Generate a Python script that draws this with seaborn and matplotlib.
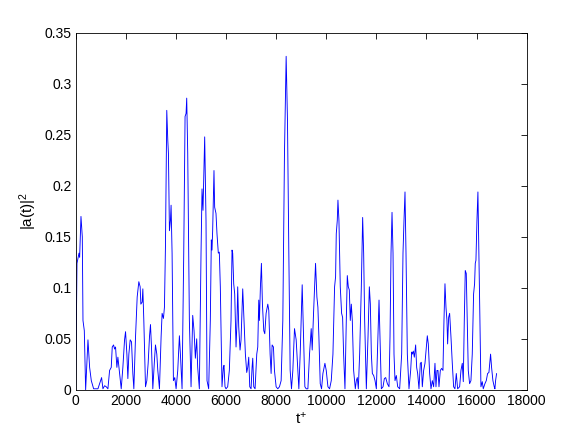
import matplotlib
matplotlib.use("Agg")
import matplotlib.pyplot as plt
import seaborn as sns
import pandas as pd

# time samples t+ and |a(t)|^2
t_plus = [0, 53, 133, 159, 212, 265, 292, 345, 398, 491, 557, 624, 717, 889, 955, 1035, 1088, 1154, 1221, 1287,
          1354, 1420, 1460, 1513, 1553, 1592, 1645, 1685, 1752, 1818, 1884, 1951, 1991, 2044, 2083, 2123, 2176,
          2229, 2282, 2322, 2389, 2455, 2521, 2574, 2601, 2654, 2681, 2720, 2787, 2840, 2893, 2946, 2986, 3026,
          3079, 3145, 3185, 3238, 3278, 3344, 3410, 3450, 3503, 3543, 3583, 3636, 3676, 3702, 3742, 3782, 3808,
          3848, 3901, 3954, 4008, 4074, 4140, 4180, 4246, 4313, 4366, 4406, 4432, 4472, 4538, 4605, 4671, 4724,
          4777, 4830, 4870, 4936, 5003, 5043, 5082, 5149, 5202, 5242, 5308, 5374, 5414, 5441, 5467, 5520, 5547,
          5600, 5640, 5693, 5733,
          5773, 5840, 5893, 5920, 5960, 6000, 6067, 6133, 6200, 6240, 6267, 6307, 6347, 6400, 6440, 6467, 6507,
          6560, 6600, 6667, 6720, 6773, 6827, 6867, 6907, 6947, 7000, 7040, 7067, 7107, 7160, 7227, 7267, 7307,
          7333, 7373, 7413, 7453, 7507, 7547, 7600, 7667, 7707, 7760, 7800, 7840, 7893, 7933, 8000, 8067, 8133,
          8200, 8267, 8333, 8400, 8453, 8507, 8560, 8613, 8667, 8733, 8800, 8867, 8907, 8960, 9000, 9040, 9093,
          9147, 9200, 9267, 9333, 9400, 9440, 9493, 9573, 9627, 9667, 9707, 9760, 9813, 9867, 9907, 9947, 10000,
          10067, 10133, 10200, 10267, 10333, 10373, 10400, 10440, 10467, 10507, 10560, 10613, 10653, 10693, 10747,
          10800, 10840, 10880, 10920, 10960, 11000, 11040, 11093, 11160, 11200, 11240, 11280, 11333, 11400, 11453,
          11493, 11533, 11600, 11667, 11720, 11760, 11800, 11840, 11893, 11947, 12000,
          12040, 12080, 12106, 12146, 12199, 12266, 12319, 12372, 12439, 12505, 12545, 12585, 12625, 12665, 12704,
          12744, 12797, 12851, 12930, 13010, 13063, 13103, 13143, 13183, 13236, 13302, 13369, 13409, 13435, 13475,
          13515, 13568, 13608, 13648, 13701, 13754, 13794, 13834, 13887, 13940, 13994, 14033, 14073, 14126, 14180,
          14233, 14286, 14339, 14379, 14419, 14459, 14499, 14552, 14605, 14658, 14698, 14738, 14778, 14817, 14844,
          14884, 14924, 14977, 15030, 15083, 15136, 15190, 15243, 15323, 15376, 15429, 15469, 15509, 15548, 15588,
          15628, 15668, 15721, 15774, 15827, 15880, 15920, 15947, 15974, 16014, 16053, 16093, 16133, 16173, 16226,
          16266, 16332, 16386, 16439, 16492, 16558, 16598, 16651, 16704, 16731, 16758, 16798]

a_sq = [0.0, 0.124, 0.134, 0.130, 0.170, 0.150, 0.068, 0.058, 0.0, 0.049, 0.022, 0.009, 0.001, 0.001, 0.006,
        0.012, 0.001, 0.004, 0.003, 0.001, 0.019, 0.022, 0.042, 0.044, 0.040, 0.042, 0.022, 0.032, 0.016, 0.001,
        0.022, 0.049, 0.057, 0.035, 0.011, 0.035, 0.049, 0.047, 0.016, 0.001, 0.052, 0.091, 0.106, 0.101, 0.084,
        0.086, 0.099, 0.068, 0.003, 0.009, 0.026, 0.052, 0.064, 0.042, 0.001, 0.029, 0.044, 0.035, 0.019, 0.001,
        0.052, 0.075, 0.070, 0.081, 0.140, 0.274, 0.245, 0.232, 0.156, 0.166, 0.181, 0.134, 0.009, 0.012, 0.001,
        0.019, 0.053, 0.035, 0.001, 0.134, 0.268, 0.271, 0.286, 0.232, 0.068, 0.003, 0.073, 0.058, 0.031, 0.050,
        0.022, 0.001, 0.134, 0.197, 0.176, 0.248, 0.166, 0.009, 0.001, 0.068, 0.147, 0.137, 0.156, 0.215, 0.179,
        0.173, 0.153, 0.134, 0.135,
        0.101, 0.003, 0.022, 0.024, 0.003, 0.001, 0.003, 0.019, 0.068, 0.137, 0.134, 0.104, 0.094, 0.042, 0.068,
        0.101, 0.062, 0.039, 0.049, 0.099, 0.068, 0.035, 0.017, 0.022, 0.032, 0.003, 0.001, 0.022, 0.031, 0.003,
        0.001, 0.035, 0.042, 0.088, 0.068, 0.101, 0.124, 0.084, 0.058, 0.055, 0.075, 0.084, 0.078, 0.035, 0.016,
        0.044, 0.042, 0.019, 0.003, 0.001, 0.003, 0.009, 0.068, 0.232, 0.327, 0.264, 0.134, 0.019, 0.001, 0.019,
        0.060, 0.049, 0.019, 0.001, 0.035, 0.068, 0.103, 0.052, 0.003, 0.001, 0.001, 0.035, 0.060, 0.039, 0.075,
        0.124, 0.091, 0.081, 0.052, 0.006, 0.001, 0.016, 0.021, 0.026, 0.019, 0.003, 0.001, 0.009, 0.035, 0.101,
        0.111, 0.153, 0.166, 0.186, 0.166, 0.101, 0.075, 0.071, 0.035, 0.001, 0.068, 0.112, 0.101, 0.098, 0.068,
        0.084, 0.068, 0.019, 0.001, 0.009, 0.012, 0.001, 0.035, 0.101, 0.169, 0.134, 0.068, 0.001, 0.052, 0.101,
        0.084, 0.035, 0.016, 0.014, 0.009, 0.001,
        0.035, 0.068, 0.088, 0.052, 0.001, 0.003, 0.011, 0.012, 0.006, 0.003, 0.052, 0.134, 0.174, 0.134, 0.035,
        0.009, 0.014, 0.003, 0.001, 0.035, 0.134, 0.166, 0.194, 0.134, 0.035, 0.001, 0.019, 0.037, 0.035, 0.038,
        0.032, 0.044, 0.022, 0.016, 0.001, 0.026, 0.027, 0.003, 0.019, 0.026, 0.042, 0.053, 0.045, 0.016, 0.001,
        0.009, 0.003, 0.026, 0.003, 0.019, 0.019, 0.003, 0.019, 0.021, 0.019, 0.068, 0.104, 0.081, 0.068, 0.045,
        0.071, 0.075, 0.052, 0.026, 0.003, 0.001, 0.016, 0.001, 0.003, 0.019, 0.026, 0.008, 0.068, 0.117, 0.114,
        0.068, 0.019, 0.006, 0.009, 0.035, 0.094, 0.104, 0.124, 0.127, 0.166, 0.194, 0.134, 0.068, 0.003, 0.008,
        0.001, 0.006, 0.009, 0.016, 0.017, 0.035, 0.022, 0.009, 0.003, 0.001, 0.009, 0.016]

x_ticks = [0, 2000, 4000, 6000, 8000, 10000, 12000, 14000, 16000, 18000]
y_ticks = [0, 0.05, 0.1, 0.15, 0.2, 0.25, 0.3, 0.35]
y_tick_labels = ["0", "0.05", "0.1", "0.15", "0.2", "0.25", "0.3", "0.35"]

sns.set_theme(style="white")
plt.rcParams["font.family"] = ["Liberation Sans", "DejaVu Sans"]
plt.rcParams["mathtext.default"] = "regular"

df = pd.DataFrame({"t": t_plus, "a": a_sq})

fig = plt.figure(figsize=(5.82, 4.38), dpi=100)
ax = fig.add_axes([0.13, 0.11, 0.775, 0.815])
sns.lineplot(data=df, x="t", y="a", ax=ax, color="#0000ff", linewidth=0.65,
             estimator=None, sort=False)

ax.set_xlim(0, 18000)
ax.set_ylim(0, 0.35)
ax.set_xticks(x_ticks)
ax.set_xticklabels([str(v) for v in x_ticks])
ax.set_yticks(y_ticks)
ax.set_yticklabels(y_tick_labels)
ax.tick_params(direction="in", length=4, width=0.6, top=True, right=True,
               labelsize=10, colors="black", pad=3)
for s in ax.spines.values():
    s.set_visible(True)
    s.set_color("black")
    s.set_linewidth(0.6)
ax.set_xlabel("t$^{+}$", fontsize=11, color="black", labelpad=2)
ax.set_ylabel("|a(t)|$^{2}$", fontsize=11, color="black", labelpad=4)
ax.grid(False)
fig.patch.set_facecolor("white")
ax.set_facecolor("white")

fig.savefig("out.png", dpi=100, facecolor="white")
